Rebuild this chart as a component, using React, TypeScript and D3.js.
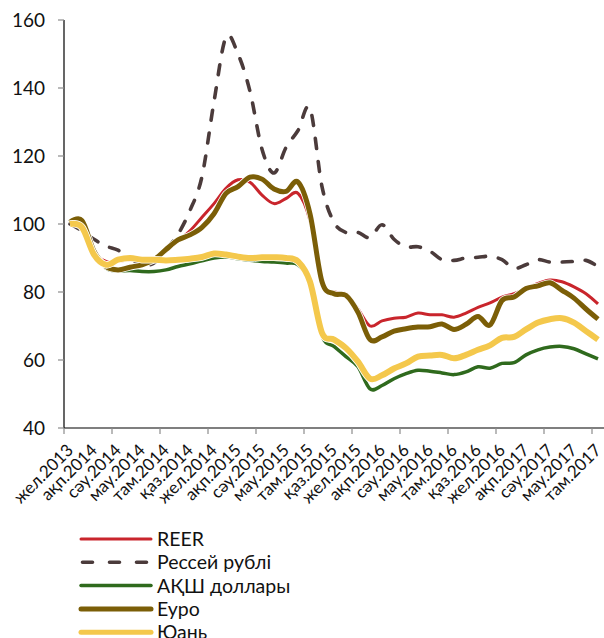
import React from "react";
import * as d3 from "d3";

const monthAbbr = ["қаң", "ақп", "нау", "сәу", "мам", "мау", "шіл", "там", "қыр", "қаз", "қар", "жел"];
const categories: string[] = (() => {
  const out: string[] = [];
  // Dec 2013 .. Aug 2017
  let m = 11, y = 2013;
  for (let i = 0; i < 45; i++) {
    out.push(`${monthAbbr[m]}.${y}`);
    m++;
    if (m > 11) { m = 0; y++; }
  }
  return out;
})();

const reer = [100.5, 101, 92, 89, 89, 89.5, 89.5, 89.7, 92, 95, 98, 102, 106, 110.5, 113, 112.3, 108.5, 106, 107.5, 109, 101, 82.5, 80, 79.5, 75, 70, 71.5, 72.3, 72.6, 73.8, 73.3, 73.3, 72.6, 73.8, 75.5, 76.8, 78.5, 79.5, 81, 82.5, 83.5, 83, 81.5, 79.5, 76.5];
const rub = [100, 98, 95.5, 93.5, 92.3, 90, 88, 88.5, 92.5, 97, 104, 114, 136, 155, 150, 139, 122, 115, 122.5, 127.5, 134, 111, 100.5, 97.5, 97.5, 96, 99.8, 95.5, 93.3, 93.3, 92, 89.5, 89.3, 90, 90.2, 90.5, 89.5, 87, 88, 89.5, 88.8, 88.8, 89, 89.3, 87.5];
const usd = [100, 99, 92, 87, 86.2, 86.3, 86, 86, 86.5, 87.5, 88.3, 89.2, 90, 90.3, 89.8, 89.3, 89, 88.8, 88.5, 88, 82.5, 67, 64, 61, 58, 51.5, 52.5, 54.5, 56, 57, 56.7, 56.2, 55.7, 56.5, 58, 57.6, 59, 59.2, 61.5, 63, 63.8, 64, 63.3, 61.8, 60.3];
const eur = [100.5, 101, 92, 87.5, 86.5, 87.3, 88, 89.5, 92.5, 95.3, 96.8, 99, 103, 109, 111, 113.8, 113.2, 110.3, 109.6, 112.3, 103, 83, 79.5, 79, 74, 66, 66.8, 68.5, 69.2, 69.7, 69.8, 70.6, 69, 70.5, 72.8, 70.3, 77.5, 78.5, 81, 81.8, 82.7, 80.5, 78.2, 75, 72];
const cny = [100, 99, 91, 88, 89.5, 90, 89.5, 89.5, 89.3, 89.5, 89.8, 90.3, 91.3, 91, 90.4, 90, 90.2, 90.2, 90, 89, 83, 68, 66, 63.5, 59.5, 54.5, 55.5, 57.5, 59, 61, 61.3, 61.5, 60.5, 61.5, 63, 64.3, 66.5, 66.8, 69, 71, 72, 72.3, 71, 68.5, 66];

const yTicks = [40, 60, 80, 100, 120, 140, 160];

const seriesNames = ["REER", "Рессей рублі", "АҚШ доллары", "Еуро", "Юань"];
const seriesData = [reer, rub, usd, eur, cny];
const seriesColors = ["#c9252c", "#4b3b3b", "#2f6a1d", "#7b5e07", "#f4c84c"];
const seriesWidths = [3, 3.6, 3.5, 5, 6];

const W = 604, H = 638;
const left = 64, right = 604, top = 20, bottom = 428;
const FONT = "Lato, 'Open Sans', sans-serif";

export default function App() {
  const x = d3.scaleBand<string>().domain(categories).range([left, right]).paddingInner(0).paddingOuter(0);
  const y = d3.scaleLinear().domain([40, 160]).range([bottom, top]);
  const cx = (i: number) => (x(categories[i]) as number) + x.bandwidth() / 2;
  const line = d3.line<number>().x((_, i) => cx(i)).y((d) => y(d)).curve(d3.curveCardinal.tension(0));

  const xTickIdx = categories.map((_, i) => i).filter((i) => i % 4 === 0);
  const labelIdx = categories.map((_, i) => i).filter((i) => i % 2 === 0);

  return (
    <svg width={W} height={H} style={{ position: "absolute", left: 0, top: 0, background: "#fff" }} fontFamily={FONT}>
      {/* lines */}
      {seriesData.map((d, s) => (
        <g key={s}>
          {s !== 1 && (
            <path d={line(d) || ""} fill="none" stroke="#fff" strokeWidth={seriesWidths[s] + 1.6} strokeLinejoin="round" />
          )}
          <path
            d={line(d) || ""}
            fill="none"
            stroke={seriesColors[s]}
            strokeWidth={seriesWidths[s]}
            strokeLinejoin="round"
            strokeLinecap={s === 1 ? "round" : "butt"}
            strokeDasharray={s === 1 ? "10 13" : undefined}
          />
        </g>
      ))}

      {/* y axis */}
      <line x1={left} x2={left} y1={top} y2={bottom} stroke="#000" strokeWidth={1.2} />
      {yTicks.map((t) => (
        <g key={t}>
          <line x1={left - 6} x2={left} y1={y(t)} y2={y(t)} stroke="#8c8c8c" strokeWidth={1.2} />
          <text x={45} y={y(t)} dy="0.36em" textAnchor="end" fontSize={19} fill="#111">{t}</text>
        </g>
      ))}

      {/* x axis */}
      <line x1={left} x2={right} y1={bottom} y2={bottom} stroke="#000" strokeWidth={1.2} />
      {xTickIdx.map((i) => (
        <line key={i} x1={x(categories[i]) as number} x2={x(categories[i]) as number} y1={bottom} y2={bottom + 6} stroke="#8c8c8c" strokeWidth={1.2} />
      ))}
      {labelIdx.map((i) => (
        <text
          key={i}
          transform={`translate(${cx(i)},${447}) rotate(-45)`}
          textAnchor="end"
          dy="0.35em"
          fontSize={17}
          fill="#111"
        >
          {categories[i]}
        </text>
      ))}

      {/* legend */}
      {seriesNames.map((n, s) => {
        const ly = 539 + s * 23.3;
        return (
          <g key={n}>
            <line
              x1={s === 1 ? 82.5 : 81}
              x2={s === 1 ? 150 : 151}
              y1={ly}
              y2={ly}
              stroke={seriesColors[s]}
              strokeWidth={s === 1 ? 3.6 : Math.min(seriesWidths[s], 5)}
              strokeLinecap="round"
              strokeDasharray={s === 1 ? "10 17" : undefined}
            />
            <text x={157} y={ly} dy="0.36em" fontSize={19.5} fill="#111">{n}</text>
          </g>
        );
      })}
    </svg>
  );
}
